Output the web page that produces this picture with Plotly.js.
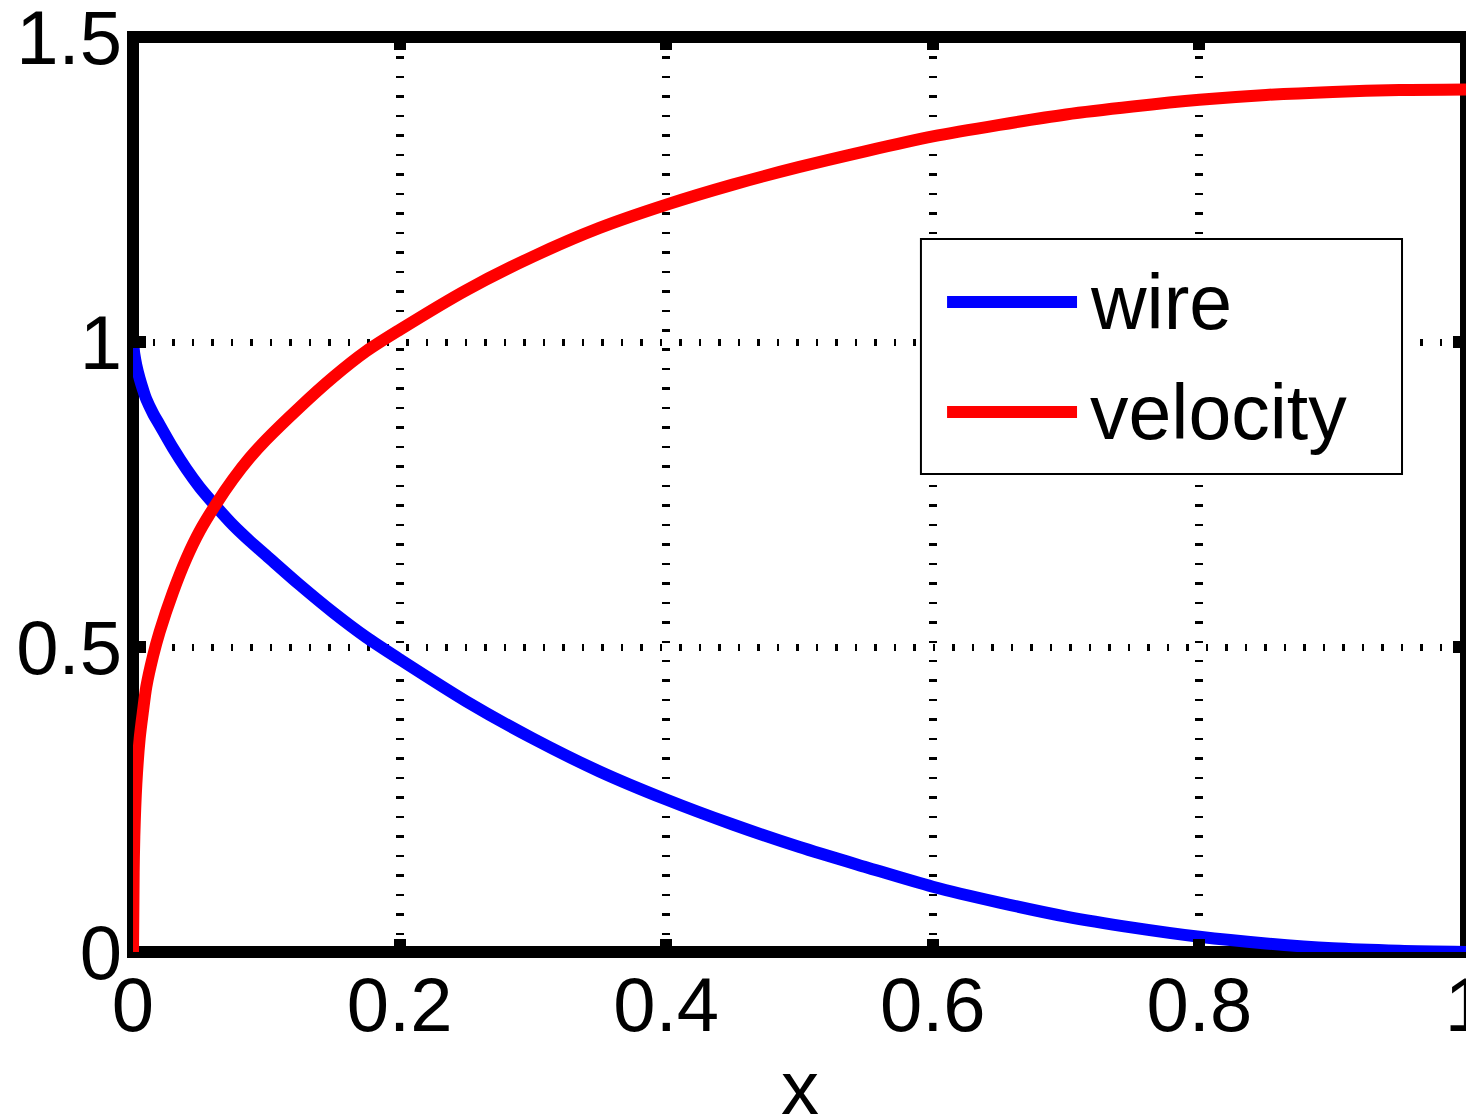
<!DOCTYPE html>
<html>
<head>
<meta charset="utf-8">
<script src="https://cdn.plot.ly/plotly-3.0.1.min.js"></script>
<style>
  html, body { margin: 0; padding: 0; background: #ffffff; overflow: hidden; }
  #chart { width: 1466px; height: 1118px; }
</style>
</head>
<body>
<div id="chart"></div>
<script>
// ---- data ----
const xValues = [0, 0.0005, 0.001, 0.0025, 0.005, 0.0075, 0.01, 0.015, 0.02, 0.03, 0.04, 0.05,
  0.0625, 0.075, 0.0875, 0.1, 0.125, 0.15, 0.175, 0.2, 0.25, 0.3, 0.35, 0.4,
  0.45, 0.5, 0.55, 0.6, 0.65, 0.7, 0.75, 0.8, 0.85, 0.9, 0.95, 1.0];

const wireValues = [1.0, 0.99, 0.98, 0.962, 0.94, 0.922, 0.906, 0.883, 0.864, 0.826, 0.792, 0.762,
  0.73, 0.70, 0.674, 0.65, 0.602, 0.557, 0.516, 0.48, 0.411, 0.35, 0.296, 0.25,
  0.209, 0.172, 0.139, 0.107, 0.081, 0.058, 0.04, 0.025, 0.014, 0.006, 0.002, 0.0];

const velocityValues = [0, 0.13, 0.19, 0.275, 0.35, 0.395, 0.435, 0.485, 0.525, 0.59, 0.645, 0.69,
  0.735, 0.775, 0.81, 0.84, 0.893, 0.942, 0.985, 1.02, 1.085, 1.14, 1.187, 1.225,
  1.258, 1.287, 1.313, 1.337, 1.356, 1.373, 1.386, 1.397, 1.405, 1.41, 1.413, 1.414];

const seriesNames = ['wire', 'velocity'];
const seriesColors = ['#0000ff', '#ff0000'];

const xTickValues = [0, 0.2, 0.4, 0.6, 0.8, 1];
const xTickLabels = ['0', '0.2', '0.4', '0.6', '0.8', '1'];
const yTickValues = [0, 0.5, 1, 1.5];
const yTickLabels = ['0', '0.5', '1', '1.5'];
const xAxisTitle = 'x';

// ---- chart ----
const FONT = 'Liberation Sans, Arial, Helvetica, sans-serif';
const seriesData = [wireValues, velocityValues];

const traces = seriesData.map((vals, i) => ({
  type: 'scatter',
  mode: 'lines',
  x: xValues,
  y: vals,
  name: seriesNames[i],
  line: { color: seriesColors[i], width: 12, shape: 'spline', smoothing: 0.8 },
  showlegend: false,
  hoverinfo: 'skip'
}));

// custom MATLAB-style legend (long sample lines)
const lgX0 = 0.5911, lgX1 = 0.952, lgY0 = 0.5224, lgY1 = 0.7792;
const lineX0 = 0.6107, lineX1 = 0.7082, textX = 0.7164;
const rowY = [0.7104, 0.5902];

const shapes = [
  // axes box
  { type: 'rect', xref: 'paper', yref: 'paper', x0: 0, x1: 1, y0: 0, y1: 1,
    line: { color: '#000000', width: 12 }, fillcolor: 'rgba(0,0,0,0)', layer: 'between' },
  // legend box
  { type: 'rect', xref: 'paper', yref: 'paper', x0: lgX0, x1: lgX1, y0: lgY0, y1: lgY1,
    line: { color: '#000000', width: 2 }, fillcolor: '#ffffff', layer: 'above' }
];
const annotations = [];
seriesNames.forEach((name, i) => {
  shapes.push({ type: 'line', xref: 'paper', yref: 'paper',
    x0: lineX0, x1: lineX1, y0: rowY[i], y1: rowY[i],
    line: { color: seriesColors[i], width: 12 }, layer: 'above' });
  annotations.push({ xref: 'paper', yref: 'paper', x: textX, y: rowY[i],
    xanchor: 'left', yanchor: 'middle', showarrow: false, text: name,
    font: { family: FONT, size: 77, color: '#000000' } });
});
// x-axis title (placed as an annotation to match the reference position)
annotations.push({ xref: 'paper', yref: 'paper', x: 0.5, y: -0.1486,
  xanchor: 'center', yanchor: 'middle', showarrow: false, text: xAxisTitle,
  font: { family: FONT, size: 76, color: '#000000' } });

const layout = {
  width: 1466,
  height: 1118,
  margin: { l: 133, r: 0, t: 37, b: 166, pad: 0 },
  paper_bgcolor: '#ffffff',
  plot_bgcolor: '#ffffff',
  showlegend: false,
  font: { family: FONT, size: 76, color: '#000000' },
  xaxis: {
    range: [0, 1],
    tickmode: 'array',
    tickvals: xTickValues,
    ticktext: xTickLabels,
    ticks: 'inside',
    ticklen: 13,
    tickwidth: 12,
    tickcolor: '#000000',
    mirror: 'ticks',
    showline: false,
    zeroline: false,
    showgrid: true,
    gridcolor: '#000000',
    gridwidth: 8,
    griddash: '2.5px,16.968px',
    ticklabeloverflow: 'allow',
    ticklabelstandoff: 2,
    tickfont: { family: FONT, size: 76, color: '#000000' },
    automargin: false,
    fixedrange: true
  },
  yaxis: {
    range: [0, 1.5],
    tickmode: 'array',
    tickvals: yTickValues,
    ticktext: yTickLabels,
    ticks: 'inside',
    ticklen: 13,
    tickwidth: 12,
    tickcolor: '#000000',
    mirror: 'ticks',
    showline: false,
    zeroline: false,
    showgrid: true,
    gridcolor: '#000000',
    gridwidth: 7,
    griddash: '2.5px,17px',
    ticklabeloverflow: 'allow',
    ticklabelstandoff: 10,
    tickfont: { family: FONT, size: 76, color: '#000000' },
    automargin: false,
    fixedrange: true
  },
  shapes: shapes,
  annotations: annotations
};

Plotly.newPlot('chart', traces, layout, { displayModeBar: false, staticPlot: true });
</script>
</body>
</html>
